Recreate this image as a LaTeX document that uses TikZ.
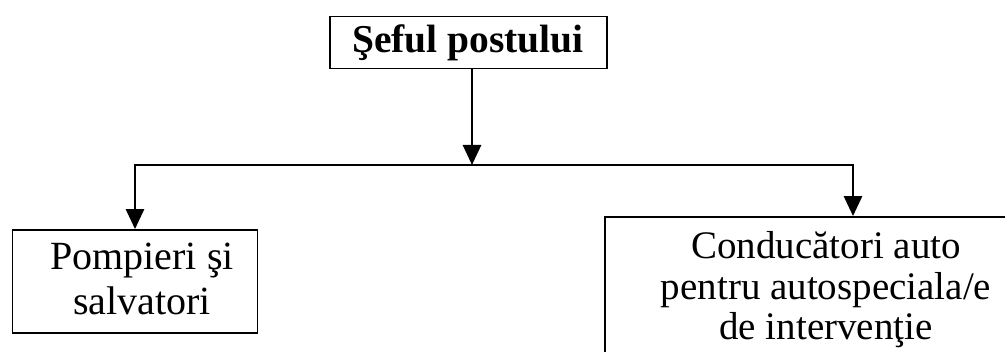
\documentclass[tikz,border=0pt]{standalone}
\usepackage{fontspec}
\setmainfont{Liberation Serif}
\usetikzlibrary{arrows.meta}
\begin{document}
\begin{tikzpicture}[x=1pt,y=-1pt,
  boxstyle/.style={draw, line width=1.8pt, inner sep=0pt},
  arr/.style={line width=2.8pt, -{Triangle[length=20pt,width=18pt]}},
  link/.style={line width=2pt},
  lbl/.style={font=\fontsize{40}{45}\selectfont, align=center, inner sep=0pt}]
\useasboundingbox (0,0) rectangle (1005,352);
\begin{scope}
\clip (0,0) rectangle (1005,352);
\node[boxstyle, minimum width=277pt, minimum height=52pt] (top) at (468.5,42.5) {};
\node[font=\bfseries\fontsize{39.5}{44}\selectfont, inner sep=0pt] (toplbl) at (468,43) {Şeful postului};
\node[boxstyle, minimum width=245pt, minimum height=103pt] (left) at (135,281.5) {};
\node[lbl] (leftlbl) at (142,279) {Pompieri şi\\salvatori};
\node[boxstyle, minimum width=440pt, minimum height=190pt] (right) at (825,312) {};
\node[lbl, font=\fontsize{39}{40.5}\selectfont] (rightlbl) at (826,290) {Conducători auto\\pentru autospeciala/e\\de intervenţie};
\coordinate (j) at (472,165);
\coordinate (lj) at (135,165);
\coordinate (rj) at (853,165);
\draw[arr] (top.south -| j) -- (j);
\draw[link] (lj) -- (rj);
\draw[arr] ([yshift=1pt]lj) -- (left.north -| lj);
\draw[arr] ([yshift=1pt]rj) -- (right.north -| rj);
\end{scope}
\end{tikzpicture}
\end{document}
